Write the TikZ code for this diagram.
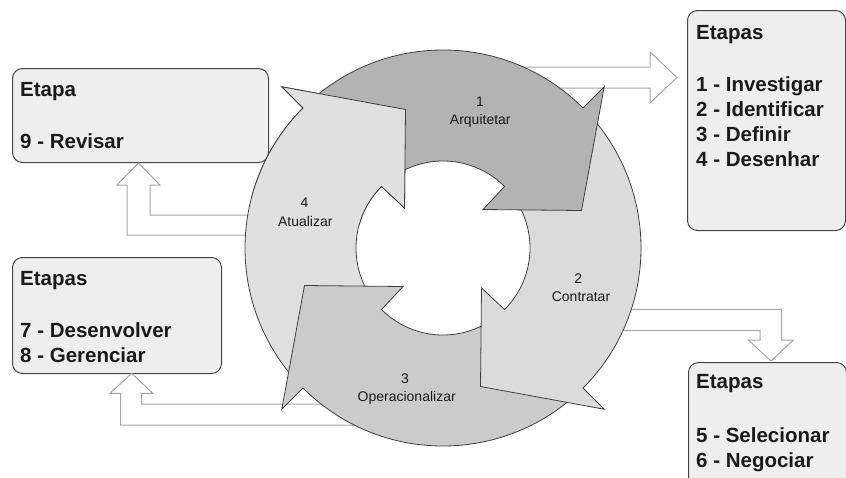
\documentclass[tikz,border=0pt]{standalone}
\usepackage{fontspec}
\setmainfont{Liberation Sans}
\definecolor{ringline}{HTML}{404040}
\definecolor{hollowline}{HTML}{A6A6A6}
\definecolor{boxline}{HTML}{454545}
\definecolor{boxfill}{HTML}{EEEEEE}
\definecolor{fillA}{HTML}{B3B3B3}
\definecolor{fillB}{HTML}{DBDBDB}
\definecolor{fillC}{HTML}{CBCBCB}
\definecolor{fillD}{HTML}{E0E0E0}
\definecolor{inktext}{HTML}{1A1A1A}
\begin{document}
\begin{tikzpicture}[x=1pt,y=-1pt,
  ringedge/.style={draw=ringline, line width=0.8pt, line join=miter},
  hollow/.style={draw=hollowline, fill=white, line width=1pt, line join=miter},
  stagebox/.style={draw=boxline, fill=boxfill, rounded corners=10pt, line width=1pt,
    anchor=north west, inner sep=0pt},
  boxtext/.style={anchor=base west, inner sep=0pt, text=inktext,
    font=\fontsize{20.5}{24}\selectfont\bfseries},
  ringtext/.style={anchor=base, inner sep=0pt, text=inktext,
    font=\fontsize{14}{17}\selectfont},
  % one ring segment with its head, in the frame of the segment ending at 135 degrees
  cycarrow/.style={insert path={(#1:198) arc[start angle=#1, end angle=135, radius=198]
    -- (135:228) -- (-37.5,138.5) -- (-38.5,40) -- (135:87)
    arc[start angle=135, end angle=#1, radius=87]}}]
\useasboundingbox (0,0) rectangle (846,477);
\clip (0,0) rectangle (846,477);

% stage boxes
\node[stagebox, minimum width=256pt, minimum height=94pt] (rev) at (12,68) {};
\node[stagebox, minimum width=209pt, minimum height=116pt] (dev) at (12,257) {};
\node[stagebox, minimum width=158pt, minimum height=220pt] (arq) at (687,10) {};
\node[stagebox, minimum width=158pt, minimum height=140pt] (con) at (688,362) {};

% hollow connectors, running out from under the ring
\draw[hollow] (500,67) -- (650,67) -- (650,52) -- (677,77.5) -- (650,103) -- (650,88) -- (500,88);
\draw[hollow] (270,215) -- (150,215) -- (150,185) -- (160,185) -- (138.5,163)
  -- (117,185) -- (127,185) -- (127,235) -- (270,235);
\draw[hollow] (330,404) -- (141.7,404) -- (141.7,393.3) -- (152.7,393.3) -- (131.7,373.3)
  -- (110,393.3) -- (120.7,393.3) -- (120.7,425) -- (380,425);
\draw[hollow] (600,309.3) -- (781.7,309.3) -- (781.7,340) -- (793.3,340) -- (771,361)
  -- (748.3,340) -- (760,340) -- (760,330.7) -- (600,330.7);

% the cycle of four arrows, each head lying over the tail of the next one
\begin{scope}[shift={(443,248)}, yscale=-1]
  % 4 - Atualizar
  \filldraw[ringedge, fill=fillD, cycarrow=225];
  % 3 - Operacionalizar
  \begin{scope}[rotate=270]
    \filldraw[ringedge, fill=fillC, cycarrow=225];
  \end{scope}
  % 2 - Contratar
  \begin{scope}[rotate=180]
    \filldraw[ringedge, fill=fillB, cycarrow=225];
  \end{scope}
  % 1 - Arquitetar
  \begin{scope}[rotate=90]
    \filldraw[ringedge, fill=fillA, cycarrow=225];
  \end{scope}
  % head of arrow 4 laid again over the tail of arrow 1
  \filldraw[ringedge, fill=fillD, cycarrow=165];
\end{scope}

% ring labels
\node[ringtext] (n1) at (480,106.7) {1};
\node[ringtext] (l1) at (480.3,124.3) {Arquitetar};
\node[ringtext] (n2) at (578.3,283.3) {2};
\node[ringtext] (l2) at (581,301.7) {Contratar};
\node[ringtext] (n3) at (405,383.3) {3};
\node[ringtext] (l3) at (406.7,401.7) {Operacionalizar};
\node[ringtext] (n4) at (304.5,207.3) {4};
\node[ringtext] (l4) at (305.3,226) {Atualizar};

% box texts
\node[boxtext] (revh) at (20,96.7) {Etapa};
\node[boxtext] (rev9) at (20,148) {9 - Revisar};
\node[boxtext] (devh) at (20,285.7) {Etapas};
\node[boxtext] (dev7) at (20,337) {7 - Desenvolver};
\node[boxtext] (dev8) at (20,362.5) {8 - Gerenciar};
\node[boxtext] (arqh) at (696,39.3) {Etapas};
\node[boxtext] (arq1) at (696,91) {1 - Investigar};
\node[boxtext] (arq2) at (696,116) {2 - Identificar};
\node[boxtext] (arq3) at (696,141) {3 - Definir};
\node[boxtext] (arq4) at (696,166.5) {4 - Desenhar};
\node[boxtext] (conh) at (696,388) {Etapas};
\node[boxtext] (con5) at (696,442) {5 - Selecionar};
\node[boxtext] (con6) at (696,467) {6 - Negociar};
\end{tikzpicture}
\end{document}
